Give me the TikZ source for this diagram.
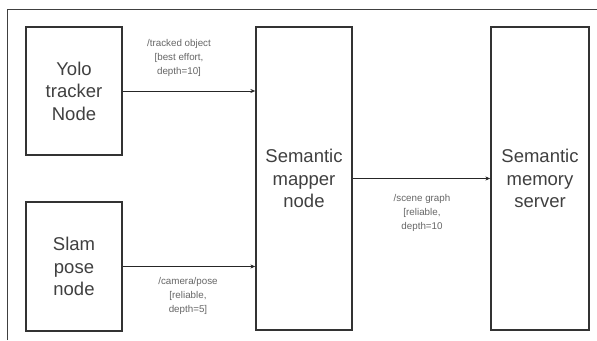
\documentclass[tikz,border=0pt]{standalone}
\usepackage{fontspec}
\setmainfont{Liberation Sans}
\usetikzlibrary{arrows.meta}
\begin{document}
\begin{tikzpicture}[x=1pt,y=-1pt,
  block/.style={draw=black!80,line width=1.3pt,fill=white,inner sep=0pt,
    text=black!75,font=\fontsize{18.5}{22.5}\selectfont,align=center},
  topic/.style={text=black!60,font=\fontsize{9.8}{14}\selectfont,align=center,inner sep=0pt},
  link/.style={draw=black!85,line width=1pt,-{Stealth[length=5pt,width=4pt]}}]
\useasboundingbox (0,0) rectangle (597,340);
\fill[white] (0,0) rectangle (597,340);
% frame edges
\coordinate (fa) at (7,340);
\coordinate (fb) at (7,9.5);
\coordinate (fc) at (597,9.5);
\draw[black!75,line width=1pt] (fa) -- (fb) -- (fc);
% blocks
\node[block,minimum width=96pt,minimum height=128pt] (yolo) at (74,91) {Yolo\\tracker\\Node};
\node[block,minimum width=96pt,minimum height=129pt] (slam) at (74,266.5) {Slam\\pose\\node};
\node[block,minimum width=96pt,minimum height=303pt] (mapper) at (304,178.5) {Semantic\\mapper\\node};
\node[block,minimum width=98pt,minimum height=303pt] (memory) at (540,178.5) {Semantic\\memory\\server};
% topics
\draw[link] (yolo.east) -- (yolo.east -| mapper.west);
\draw[link] (slam.east) -- (slam.east -| mapper.west);
\draw[link] (mapper.east) -- (memory.west);
\node[topic] (t1) at (179,58) {/tracked object\\{}[best effort,\\depth=10]};
\node[topic] (t2) at (188,296) {/camera/pose\\{}[reliable,\\depth=5]};
\node[topic] (t3) at (422,213) {/scene graph\\{}[reliable,\\depth=10};
\end{tikzpicture}
\end{document}
